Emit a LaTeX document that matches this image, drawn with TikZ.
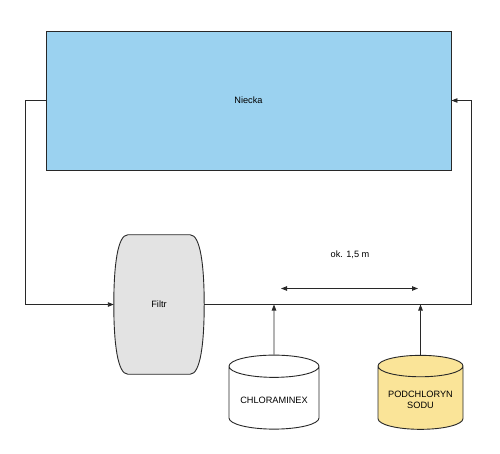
\documentclass[tikz,border=0pt]{standalone}
\usepackage{fontspec}
\setmainfont{Liberation Sans}
\usetikzlibrary{arrows.meta, positioning, shapes.geometric, backgrounds, calc}
\definecolor{PoolColor}{RGB}{155, 210, 240}
\definecolor{FilterColor}{RGB}{227, 227, 227}
\definecolor{SodiumColor}{RGB}{250, 228, 152}
\definecolor{LineColor}{RGB}{40, 40, 40}

\begin{document}
\begin{tikzpicture}[
    x=1pt, y=-1pt,
    font=\fontsize{9.2}{10.5}\selectfont,
    pool/.style={
        draw=LineColor,
        fill=PoolColor,
        line width=0.9pt,
        minimum width=405pt,
        minimum height=139pt
    },
    filterbox/.style={
        minimum width=90pt,
        minimum height=139pt
    },
    tank/.style={
        cylinder,
        shape border rotate=90,
        draw=LineColor,
        line width=0.9pt,
        aspect=0.3,
        minimum height=74pt,
        minimum width=90pt,
        align=center
    },
    flow/.style={-{Triangle[length=6pt, width=4.5pt]}, line width=0.9pt, LineColor},
    pipe/.style={line width=0.9pt, LineColor},
    span/.style={{Triangle[length=6pt, width=4.5pt]}-{Triangle[length=6pt, width=4.5pt]}, line width=0.9pt, LineColor}
]
\useasboundingbox (0,0) rectangle (500,454);

% Pool
\node[pool] (niecka) at (248.5,100.5) {Niecka};

% Filter
\node[filterbox] (filtr) at (159,304.5) {Filtr};
\begin{scope}[on background layer]
\draw[pipe, fill=FilterColor]
    ($(filtr.north west)+(14,0)$) -- ($(filtr.north east)+(-14,0)$)
    .. controls ($(filtr.north east)+(-4,0)$) and ($(filtr.east)+(0,-40)$) .. (filtr.east)
    .. controls ($(filtr.east)+(0,40)$) and ($(filtr.south east)+(-4,0)$) .. ($(filtr.south east)+(-14,0)$)
    -- ($(filtr.south west)+(14,0)$)
    .. controls ($(filtr.south west)+(4,0)$) and ($(filtr.west)+(0,40)$) .. (filtr.west)
    .. controls ($(filtr.west)+(0,-40)$) and ($(filtr.north west)+(4,0)$) .. cycle;
\end{scope}

% Dosing tanks
\node[tank, fill=white] (chloraminex) at (274,400) {CHLORAMINEX};
\node[tank, fill=SodiumColor, minimum width=85pt] (podchloryn) at (420.5,400) {PODCHLORYN\\SODU};

% Circulation
\coordinate (leftturn) at (25,304.5);
\coordinate (rightturn) at (471,304.5);
\coordinate (dose1) at (274,304.5);
\coordinate (dose2) at (420.5,304.5);
\draw[flow] (niecka.west) -| (leftturn) -- (filtr.west);
\draw[flow] (filtr.east) -- (rightturn) |- (niecka.east);
\draw[flow] (chloraminex.north) -- (dose1);
\draw[flow] (podchloryn.north) -- (dose2);

% Distance
\node (distance) at (350,255) {ok. 1,5 m};
\coordinate (spanl) at (281,288.5);
\coordinate (spanr) at (418,288.5);
\draw[span] (spanl) -- (spanr);

\end{tikzpicture}
\end{document}
